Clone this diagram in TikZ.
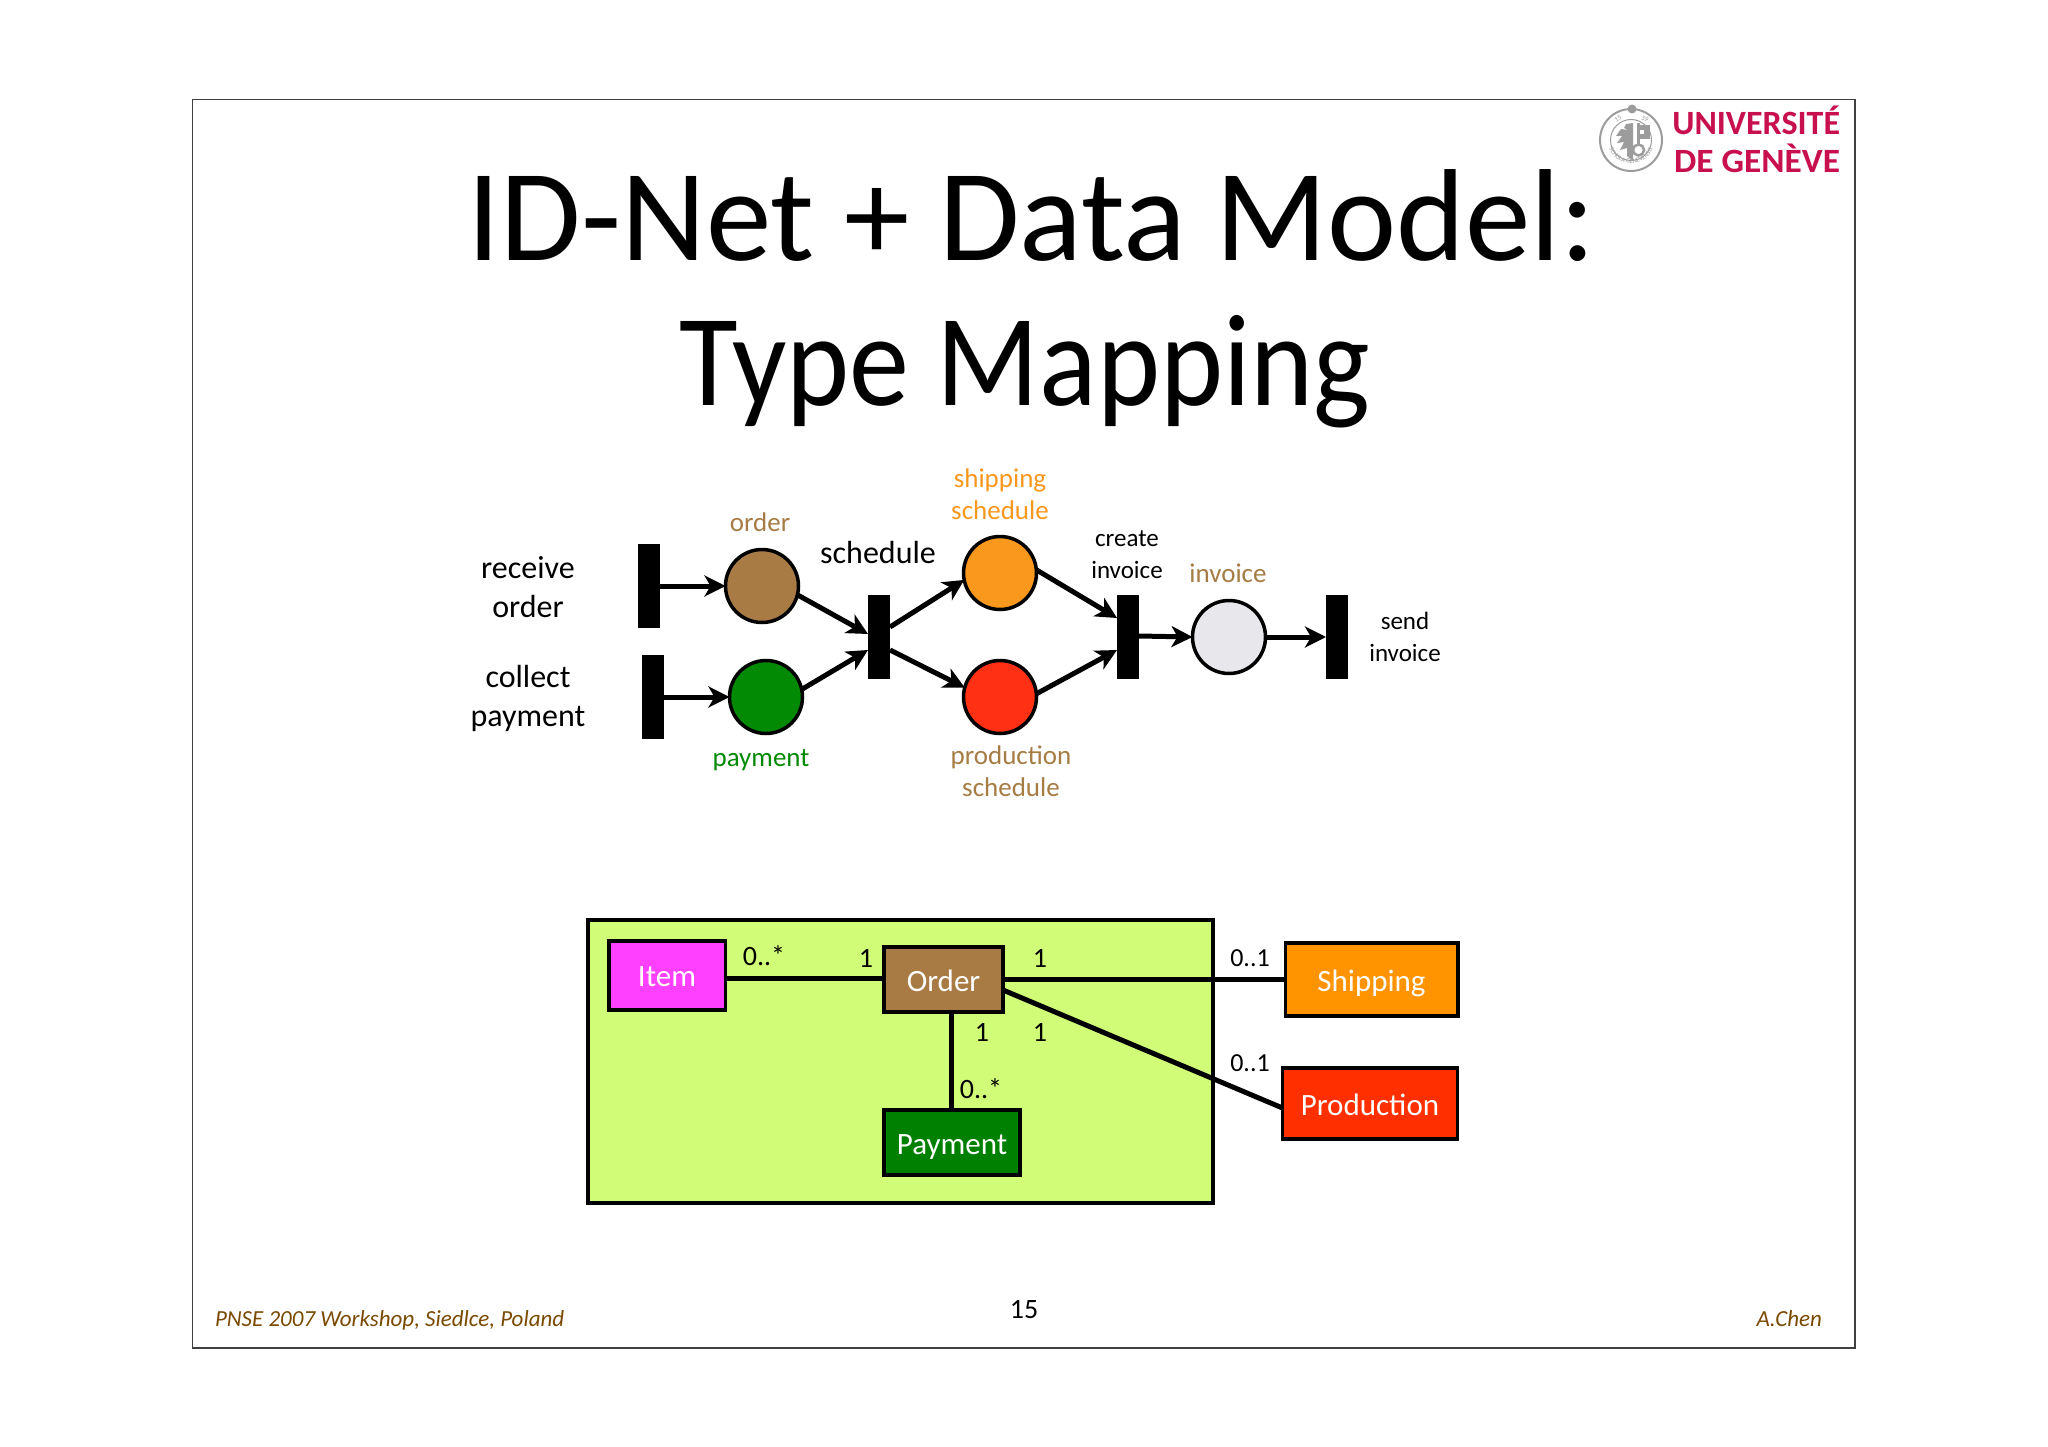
\documentclass[tikz,border=0pt]{standalone}
\usepackage{fontspec}
\setmainfont{Carlito}
\usetikzlibrary{arrows.meta,decorations.text}
\definecolor{cbrown}{HTML}{A87B45}
\definecolor{lbrown}{HTML}{A67C44}
\definecolor{corange}{HTML}{FA981E}
\definecolor{cred}{HTML}{FF3014}
\definecolor{cgreen}{HTML}{038A05}
\definecolor{cinv}{HTML}{E8E8EC}
\definecolor{boxgreen}{HTML}{D0FC77}
\definecolor{bitem}{HTML}{FF40FF}
\definecolor{bship}{HTML}{FF9300}
\definecolor{bprod}{HTML}{FF2F00}
\definecolor{bpay}{HTML}{008000}
\definecolor{foot}{HTML}{7A4A00}
\definecolor{unige}{HTML}{C8104F}
\definecolor{seal}{HTML}{9C9C9C}
\tikzset{
  x=1pt,y=-1pt,
  barnode/.style={fill=black,draw=none,inner sep=0pt,outer sep=0pt,minimum width=22pt,minimum height=84pt},
  place/.style={circle,draw=black,line width=3.5pt,inner sep=0pt,outer sep=0pt,minimum size=73pt},
  flow/.style={line width=5pt,-{Stealth[length=21pt,width=21pt,inset=6pt]}},
  assoc/.style={line width=5pt},
  lab/.style={align=center,inner sep=0pt,outer sep=0pt},
  big/.style={lab,font=\fontsize{32}{39}\selectfont},
  small/.style={lab,font=\fontsize{27}{32}\selectfont},
  tiny/.style={lab,font=\fontsize{25}{32}\selectfont},
  mult/.style={lab,font=\fontsize{28}{32}\selectfont},
  classbox/.style={draw=black,line width=3.5pt,inner sep=0pt,outer sep=0pt,text=white,font=\fontsize{31}{36}\selectfont},
  titletext/.style={lab,font=\fontsize{131}{150}\selectfont},
  foottext/.style={lab,font=\fontsize{23}{28}\itshape\selectfont,text=foot},
  sealtext/.style={lab,text=seal,font=\fontsize{7}{8}\selectfont},
}
\begin{document}
\begin{tikzpicture}
\useasboundingbox (0,0) rectangle (2048,1447);
\fill[white] (0,0) rectangle (2048,1447);
\draw[line width=1.5pt,draw=black!75] (192.5,99.5) rectangle (1855,1348);

% logo
\draw[seal,line width=2pt] (1631,140) circle (31);
\draw[seal,line width=1pt] (1631,140) circle (20.5);
\fill[seal] (1632,109) circle (4.5);
\fill[seal] (1633,123) -- (1626,124) -- (1624,128) -- (1628,130) -- (1621,129) -- (1616,136) -- (1622,136) -- (1617,143) -- (1624,142) -- (1620,150) -- (1627,148) -- (1627,156) -- (1633,161) -- cycle;
\fill[seal] (1637,123) rectangle (1640,145);
\fill[seal] (1640,125) rectangle (1650,130);
\fill[seal] (1644,130) rectangle (1650,134);
\fill[seal] (1640,134) rectangle (1650,139);
\draw[seal,line width=2.5pt] (1638.5,150) circle (5.5);
\path[decorate,decoration={text along path,text={|\fontsize{6.5}{8}\selectfont\color{seal}|SCHOLA GENEVENSIS},text align=center}]
  (1631,140) ++(165:23.5pt) arc[start angle=165,end angle=375,radius=23.5pt];
\node[sealtext,rotate=30] (s15) at (1618,119) {15};
\node[sealtext,rotate=-30] (s59) at (1645,119) {59};
\node[lab,font=\fontsize{34}{38}\bfseries\selectfont,text=unige,anchor=east] (uni) at (1840,120) {UNIVERSITÉ};
\node[lab,font=\fontsize{34}{38}\bfseries\selectfont,text=unige,anchor=east] (gen) at (1840,158) {\scalebox{1.04}[1]{DE GENÈVE}};

% title
\node[titletext] (t1) at (1032,216) {ID-Net + Data Model:};
\node[titletext] (t2) at (1025,372) {\scalebox{0.917}[1]{Type Mapping}};

% net
\node[barnode] (receive) at (649,586) {};
\node[barnode] (collect) at (653,697) {};
\node[barnode] (sched) at (879,637) {};
\node[barnode] (create) at (1128,637) {};
\node[barnode] (send) at (1337,637) {};
\node[place,fill=cbrown] (order) at (762,586) {};
\node[place,fill=cgreen] (payment) at (766,697) {};
\node[place,fill=corange] (shipping) at (1000,573) {};
\node[place,fill=cred] (production) at (1000,697) {};
\node[place,fill=cinv] (invoice) at (1229,637) {};

\coordinate (schedA) at (868,634);
\coordinate (schedB) at (868,650);
\coordinate (schedC) at (890,627);
\coordinate (schedD) at (890,650);
\coordinate (createA) at (1117,618);
\coordinate (createB) at (1117,650);
\coordinate (createC) at (1139,636);

\draw[flow] (receive.east |- order.west) -- (order.west);
\draw[flow] (collect.east |- payment.west) -- (payment.west);
\draw[flow] (order.-14) -- (schedA);
\draw[flow] (payment.12) -- (schedB);
\draw[flow] (schedC) -- (shipping.191);
\draw[flow] (schedD) -- (production.165);
\draw[flow] (shipping.5) -- (createA);
\draw[flow] (production.5) -- (createB);
\draw[flow] (createC) -- (invoice.west);
\draw[flow] (invoice.east) -- (send.west);

\node[big] (lr) at (528,587) {receive\\order};
\node[big] (lc) at (528,698) {collect\\payment};
\node[big] (ls) at (878,553) {schedule};
\node[small,text=lbrown] (lo) at (760,522) {order};
\node[small,text=corange] (lsh) at (1000,494) {shipping\\schedule};
\node[small,text=lbrown] (li) at (1228,573) {invoice};
\node[small,text=cgreen] (lp) at (761,760) {payment};
\node[small,text=lbrown] (lpr) at (1011,771) {production\\schedule};
\node[tiny] (lci) at (1127,555) {create\\invoice};
\node[tiny] (lsi) at (1405,637) {send\\invoice};

% data model
\node[draw=black,line width=3.5pt,fill=boxgreen,inner sep=0pt,outer sep=0pt,minimum width=625pt,minimum height=283pt] (domain) at (900.5,1061.5) {};
\node[classbox,fill=bitem,minimum width=116.5pt,minimum height=69pt] (item) at (667,975.5) {\raisebox{-1pt}[\height][\depth]{Item}};
\node[classbox,fill=cbrown,minimum width=119pt,minimum height=65pt] (ord) at (943.5,979.5) {\raisebox{-1pt}[\height][\depth]{Order}};
\node[classbox,fill=bpay,minimum width=136pt,minimum height=65pt] (pay) at (952,1142.5) {\raisebox{-5pt}[\height][\depth]{Payment}};
\node[classbox,fill=bship,minimum width=172.5pt,minimum height=73pt] (ship) at (1371.5,979.5) {\raisebox{-4pt}[\height][\depth]{Shipping}};
\node[classbox,fill=bprod,minimum width=175pt,minimum height=71pt] (prod) at (1370,1103.5) {\raisebox{-1pt}[\height][\depth]{Production}};

\coordinate (ordOut) at (1003,990);
\coordinate (prodIn) at (1282.5,1108);
\draw[assoc] (item.east |- 0,978) -- (ord.west |- 0,978);
\draw[assoc] (ord.east) -- (ship.west);
\draw[assoc] (ordOut) -- (prodIn);
\draw[assoc] (951,1012) -- (pay.north -| 951,0);

\node[mult] (m1) at (764,956) {0..*};
\node[mult] (m2) at (866,958) {1};
\node[mult] (m3) at (1040,958) {1};
\node[mult,font=\fontsize{26}{30}\selectfont] (m4) at (1250,958) {0..1};
\node[mult] (m5) at (982,1032) {1};
\node[mult] (m6) at (1040,1032) {1};
\node[mult] (m7) at (981,1089) {0..*};
\node[mult,font=\fontsize{26}{30}\selectfont] (m8) at (1250,1063) {0..1};

% footer
\node[foottext,anchor=west] (f1) at (215,1320) {PNSE 2007 Workshop, Siedlce, Poland};
\node[lab,font=\fontsize{28}{32}\selectfont] (f2) at (1024,1310) {15};
\node[foottext,anchor=east] (f3) at (1822,1319) {A.Chen};
\end{tikzpicture}
\end{document}
